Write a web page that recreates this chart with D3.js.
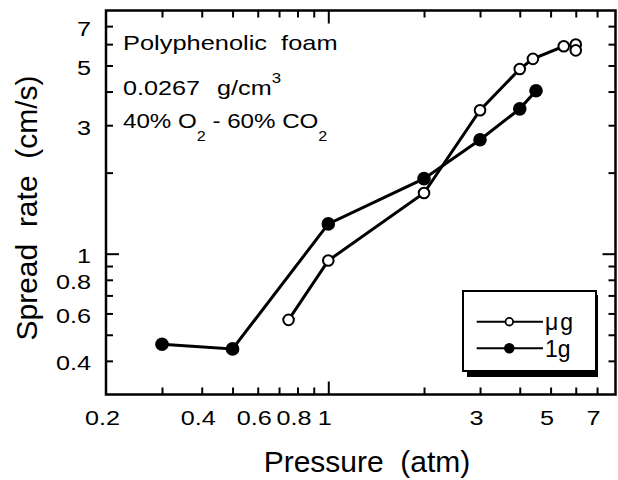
<!DOCTYPE html>
<html>
<head>
<meta charset="utf-8">
<script src="https://cdn.jsdelivr.net/npm/d3@7/dist/d3.min.js"></script>
<style>
  html, body { margin: 0; padding: 0; background: #fff; }
  svg { display: block; }
  text { font-family: "Liberation Sans", Arial, Helvetica, sans-serif; fill: #000; white-space: pre; }
</style>
</head>
<body>
<svg id="chart" width="618" height="480"></svg>
<script>
// ---- data ----
const mugPressure = [0.75, 1.0, 2.0, 3.0, 4.0, 4.4, 5.5, 6.0, 6.0];
const mugRate     = [0.568, 0.943, 1.68, 3.41, 4.85, 5.29, 5.89, 5.98, 5.69];
const oneGPressure = [0.3, 0.5, 1.0, 2.0, 3.0, 4.0, 4.5];
const oneGRate     = [0.461, 0.443, 1.29, 1.90, 2.65, 3.45, 4.03];

const xTickLabels = [0.2, 0.4, 0.6, 0.8, 1, 3, 5, 7];
const yTickLabels = [0.4, 0.6, 0.8, 1, 3, 5, 7];
const xMinorTicks = [0.3, 0.4, 0.5, 0.6, 0.7, 0.8, 0.9, 2, 3, 4, 5, 6, 7];
const xMajorTicks = [1];
const yMinorTicks = [0.4, 0.5, 0.6, 0.7, 0.8, 0.9, 2, 3, 4, 5, 6, 7];
const yMajorTicks = [1];
const seriesNames = ["\u03bcg", "1g"];

// ---- layout ----
const L = 106, R = 615.5, T = 10.5, B = 394.5;
const svg = d3.select("#chart");

const x = d3.scaleLog().domain([0.2, 8]).range([L, R]);
const y = d3.scaleLog().domain([0.3, 8]).range([B, T]);

const axisStyle = g => {
  g.select(".domain").remove();
  g.selectAll(".tick line").attr("stroke", "#000").attr("stroke-width", 2);
  g.selectAll(".tick text").remove();
};

// ticks (inward) on all four sides
[[xMinorTicks, 7], [xMajorTicks, 13]].forEach(([vals, len]) => {
  svg.append("g").attr("transform", `translate(0,${B})`)
    .call(d3.axisBottom(x).tickValues(vals).tickSize(-len).tickFormat(""))
    .call(axisStyle);
  svg.append("g").attr("transform", `translate(0,${T})`)
    .call(d3.axisTop(x).tickValues(vals).tickSize(-len).tickFormat(""))
    .call(axisStyle);
});
[[yMinorTicks, 7], [yMajorTicks, 13]].forEach(([vals, len]) => {
  svg.append("g").attr("transform", `translate(${L},0)`)
    .call(d3.axisLeft(y).tickValues(vals).tickSize(-len).tickFormat(""))
    .call(axisStyle);
  svg.append("g").attr("transform", `translate(${R},0)`)
    .call(d3.axisRight(y).tickValues(vals).tickSize(-len).tickFormat(""))
    .call(axisStyle);
});

// frame
svg.append("rect")
  .attr("x", L).attr("y", T).attr("width", R - L).attr("height", B - T)
  .attr("fill", "none").attr("stroke", "#000").attr("stroke-width", 2.5);

// tick labels (wide-looking font -> horizontal stretch)
xTickLabels.forEach(v => {
  svg.append("g").attr("transform", `translate(${x(v) - 3.5},425) scale(1.2,1)`)
    .append("text").attr("text-anchor", "middle").attr("font-size", 21).text(String(v));
});
yTickLabels.forEach(v => {
  svg.append("g").attr("transform", `translate(91,${y(v) + 9.5}) scale(1.2,1)`)
    .append("text").attr("text-anchor", "end").attr("font-size", 21).text(String(v));
});

// axis titles
svg.append("text").attr("x", 367).attr("y", 471.5).attr("text-anchor", "middle")
  .attr("font-size", 30).text("Pressure\u00a0\u00a0(atm)");
svg.append("text").attr("transform", "translate(37,208) rotate(-90)")
  .attr("text-anchor", "middle").attr("font-size", 30)
  .text("Spread\u00a0\u00a0rate\u00a0\u00a0(cm/s)");

// annotation
const a1 = svg.append("g").attr("transform", "translate(123,50) scale(1.21,1)")
  .append("text").attr("font-size", 21).text("Polyphenolic\u00a0\u00a0foam");
const a2 = svg.append("g").attr("transform", "translate(123,95) scale(1.2,1)")
  .append("text").attr("font-size", 21);
a2.append("tspan").text("0.0267\u00a0\u00a0");
a2.append("tspan").attr("dx", 2.5).text("g/cm");
a2.append("tspan").attr("font-size", 14).attr("dy", -12).text("3");
const a3 = svg.append("g").attr("transform", "translate(123,128.3) scale(1.15,1)")
  .append("text").attr("font-size", 21);
a3.append("tspan").text("40%\u00a0O");
a3.append("tspan").attr("font-size", 14).attr("dy", 13).text("2");
a3.append("tspan").attr("dy", -13).text("\u00a0-\u00a060%\u00a0CO");
a3.append("tspan").attr("font-size", 14).attr("dy", 13).text("2");

// series
const line = d3.line().x(d => x(d[0])).y(d => y(d[1]));
const mug = mugPressure.map((p, i) => [p, mugRate[i]]);
const oneG = oneGPressure.map((p, i) => [p, oneGRate[i]]);

svg.append("path").datum(mug).attr("d", line)
  .attr("fill", "none").attr("stroke", "#000").attr("stroke-width", 3);
svg.append("path").datum(oneG).attr("d", line)
  .attr("fill", "none").attr("stroke", "#000").attr("stroke-width", 3);

svg.selectAll("circle.mug").data(mug).enter().append("circle")
  .attr("cx", d => x(d[0])).attr("cy", d => y(d[1])).attr("r", 5.3)
  .attr("fill", "#fff").attr("stroke", "#000").attr("stroke-width", 2);
svg.selectAll("circle.oneg").data(oneG).enter().append("circle")
  .attr("cx", d => x(d[0])).attr("cy", d => y(d[1])).attr("r", 6.8)
  .attr("fill", "#000");

// legend
const lg = svg.append("g");
lg.append("rect").attr("x", 467).attr("y", 295).attr("width", 131).attr("height", 82).attr("fill", "#000");
lg.append("rect").attr("x", 463).attr("y", 291).attr("width", 133).attr("height", 80)
  .attr("fill", "#fff").attr("stroke", "#000").attr("stroke-width", 2);
const rows = [
  {name: seriesNames[0], y: 321.7, open: true, ty: 330},
  {name: seriesNames[1], y: 348.3, open: false, ty: 357}
];
rows.forEach(r => {
  lg.append("line").attr("x1", 476.7).attr("x2", 543).attr("y1", r.y).attr("y2", r.y)
    .attr("stroke", "#000").attr("stroke-width", 2);
  if (r.open) {
    lg.append("circle").attr("cx", 509.3).attr("cy", r.y).attr("r", 3.8)
      .attr("fill", "#fff").attr("stroke", "#000").attr("stroke-width", 1.8);
  } else {
    lg.append("circle").attr("cx", 509.3).attr("cy", r.y).attr("r", 5.3).attr("fill", "#000");
  }
  lg.append("text").attr("x", 545).attr("y", r.ty).attr("font-size", 23)
    .attr("letter-spacing", r.open ? 2 : 0).text(r.name);
});
</script>
</body>
</html>
